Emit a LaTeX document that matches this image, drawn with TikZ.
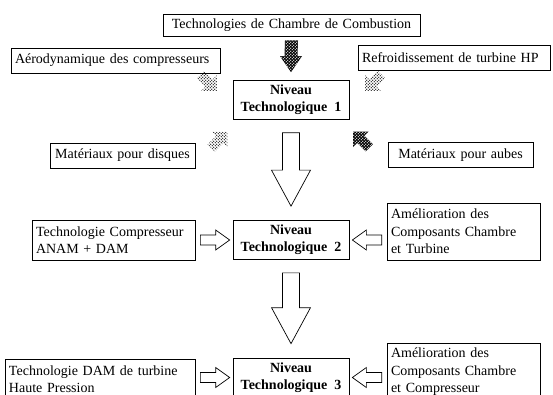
\documentclass[tikz,border=0pt]{standalone}
\usepackage{fontspec}
\setmainfont{Liberation Serif}
\usetikzlibrary{positioning, calc, patterns}

\pgfdeclarepatternformonly{bigdots}{\pgfqpoint{0pt}{0pt}}{\pgfqpoint{3.4pt}{3.4pt}}{\pgfqpoint{3.4pt}{3.4pt}}{%
  \pgfpathcircle{\pgfqpoint{0.85pt}{0.85pt}}{0.75pt}
  \pgfpathcircle{\pgfqpoint{2.55pt}{2.55pt}}{0.75pt}
  \pgfusepath{fill}}

\begin{document}
\begin{tikzpicture}[x=1pt, y=-1pt,
      box/.style={rectangle, draw, line width=0.7pt, inner xsep=4pt, inner ysep=2pt, align=left, font=\fontsize{14}{17.5}\selectfont},
      niveau/.style={rectangle, draw, line width=0.7pt, minimum width=116pt, minimum height=39pt, align=center, font=\fontsize{14}{17}\selectfont\bfseries},
      hollow/.style={draw, line width=0.7pt, fill=white, line join=miter},
      lightdots/.style={pattern=bigdots, pattern color=black},
      darkdots/.style={preaction={fill=black}, pattern=bigdots, pattern color=white}]

      \useasboundingbox (0,0) rectangle (553,395);
      \fill[white] (0,0) rectangle (553,395);
      \clip (0,0) rectangle (553,395);

      \node[box, text width=249pt, align=center, minimum height=22pt] (comb) at (291.5,25) {Technologies de Chambre de Combustion};
      \node[box, text width=201pt, minimum height=25pt] (aero) at (115.5,60.5) {Aérodynamique des compresseurs};
      \node[box, text width=184pt, minimum height=25pt] (refr) at (454,57.5) {Refroidissement de turbine HP};
      \node[niveau] (niv1) at (291,100) {Niveau\\Technologique~ 1};
      \node[box, text width=137pt, align=center, minimum height=25pt] (disq) at (122.5,155.5) {Matériaux pour disques};
      \node[box, text width=137pt, align=center, minimum height=25pt] (aubes) at (460.5,155) {Matériaux pour aubes};

      \node[niveau] (niv2) at (291,240) {Niveau\\Technologique~ 2};
      \node[box, text width=155pt, minimum height=40pt] (comp) at (113.5,240) {Technologie Compresseur\\ANAM + DAM};
      \node[box, text width=145pt, minimum height=57pt] (amel2) at (463.5,231.5) {Amélioration des\\Composants Chambre\\et Turbine};

      \node[niveau] (niv3) at (291,377.5) {Niveau\\Technologique~ 3};
      \node[box, text width=182pt, minimum height=40pt] (damt) at (100,379) {Technologie DAM de turbine\\Haute Pression};
      \node[box, text width=145pt, minimum height=57pt] (amel3) at (463.5,372) {Amélioration des\\Composants Chambre\\et Compresseur};

      % dotted arrows towards level 1
      \fill[darkdots] ($(comb.south)+(-6.5,4)$) -- ($(comb.south)+(6.5,4)$) -- ($(niv1.north)+(6.5,-24)$) -- ($(niv1.north)+(11,-24)$)
        -- ($(niv1.north)+(0,-8)$) -- ($(niv1.north)+(-11,-24)$) -- ($(niv1.north)+(-6.5,-24)$) -- cycle;
      \fill[lightdots, shift={($(aero.south east)+(-12,9)$)}, rotate=-45] (-11,-5) -- (1,-5) -- (1,-11) -- (12,0) -- (1,11) -- (1,5) -- (-11,5) -- cycle;
      \fill[lightdots, shift={($(refr.south west)+(16,12)$)}, rotate=-135] (-11,-5) -- (1,-5) -- (1,-11) -- (12,0) -- (1,11) -- (1,5) -- (-11,5) -- cycle;
      \fill[lightdots, shift={($(disq.north east)!0.5!(niv1.south west)+(5,9)$)}, rotate=45] (-11,-5) -- (1,-5) -- (1,-11) -- (12,0) -- (1,11) -- (1,5) -- (-11,5) -- cycle;
      \fill[darkdots, shift={($(aubes.north west)!0.5!(niv1.south east)+(-7,9)$)}, rotate=135] (-11,-5) -- (1,-5) -- (1,-11) -- (12,0) -- (1,11) -- (1,5) -- (-11,5) -- cycle;

      % big hollow arrows between levels
      \foreach \a/\b in {niv1/niv2, niv2/niv3} {
        \draw[hollow] ($(\a.south)+(-8.5,13)$) -- ($(\a.south)+(8.5,13)$) -- ($(\b.north)+(8.5,-50)$) -- ($(\b.north)+(19.5,-50)$)
          -- ($(\b.north)+(0,-14)$) -- ($(\b.north)+(-19.5,-50)$) -- ($(\b.north)+(-8.5,-50)$) -- cycle;
      }

      % small hollow arrows into the levels
      \foreach \a/\b in {comp/niv2, damt/niv3} {
        \draw[hollow] ($(\a.east |- \b.west)+(5,-5)$) -- ($(\b.west)+(-17,-5)$) -- ($(\b.west)+(-17,-10)$) -- ($(\b.west)+(-3,0)$)
          -- ($(\b.west)+(-17,10)$) -- ($(\b.west)+(-17,5)$) -- ($(\a.east |- \b.west)+(5,5)$) -- cycle;
      }
      \foreach \a/\b in {amel2/niv2, amel3/niv3} {
        \draw[hollow] ($(\a.west |- \b.east)+(-5,-5)$) -- ($(\b.east)+(17,-5)$) -- ($(\b.east)+(17,-10)$) -- ($(\b.east)+(3,0)$)
          -- ($(\b.east)+(17,10)$) -- ($(\b.east)+(17,5)$) -- ($(\a.west |- \b.east)+(-5,5)$) -- cycle;
      }
    \end{tikzpicture}
\end{document}
